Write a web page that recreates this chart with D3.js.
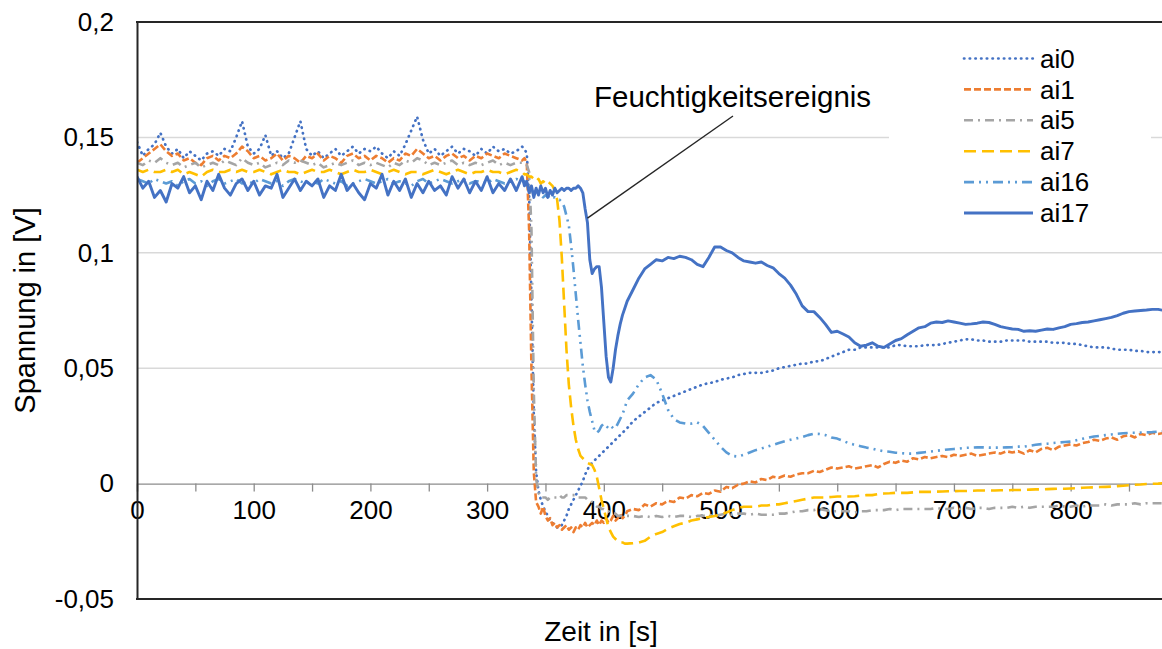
<!DOCTYPE html>
<html>
<head>
<meta charset="utf-8">
<script src="https://cdn.jsdelivr.net/npm/d3@7"></script>
<style>
  body { margin: 0; background: #fff; }
  svg { display: block; font-family: "Liberation Sans", Arial, sans-serif; }
</style>
</head>
<body>
<div id="chart"></div>
<script>
// Zeitachse: 5 s Raster, im Bereich des Ereignisses 2 s
const zeit = [...d3.range(0, 331, 5), ...d3.range(332, 421, 2), ...d3.range(425, 881, 5)]

const ai0 = [
  .148,.142,.145,.147,.152,.146,.143,.145,.141,.144,
  .142,.140,.143,.144,.142,.145,.144,.150,.157,.146,
  .143,.145,.151,.142,.144,.141,.143,.150,.157,.145,
  .142,.144,.141,.143,.145,.142,.144,.146,.143,.145,
  .144,.146,.143,.141,.144,.142,.147,.153,.159,.149,
  .143,.145,.142,.144,.146,.143,.145,.144,.142,.145,
  .143,.146,.144,.145,.143,.144,.146,
  .145,.143,.125,.080,.030,.005,-.003,-.007,-.010,-.012,
  -.014,-.016,-.017,-.018,-.019,-.019,-.018,-.016,-.014,-.011,
  -.009,-.007,-.005,-.003,-.001,.001,.004,.006,.008,.009,
  .010,.011,.012,.013,.014,.015,.016,.017,.018,.019,
  .020,.021,.022,.023,.024,
  .027,.029,.031,.033,.035,.036,.037,.038,.039,.040,
  .041,.042,.043,.0435,.044,.045,.0455,.046,.047,.0475,
  .048,.048,.048,.0485,.049,.050,.0505,.051,.0515,.052,
  .052,.053,.053,.054,.055,.056,.057,.058,.058,.059,
  .059,.059,.059,.059,.059,.060,.060,.0595,.0595,.0595,
  .060,.060,.060,.0605,.061,.0615,.062,.0625,.0625,.062,
  .062,.0615,.0615,.0615,.062,.062,.062,.062,.0615,.0615,
  .0615,.0615,.061,.061,.061,.0605,.0605,.060,.0595,.059,
  .059,.059,.0585,.058,.058,.058,.0575,.0575,.057,.057,
  .057,.057
]

const ai1 = [
  .139,.141,.143,.145,.147,.144,.142,.143,.140,.141,
  .139,.138,.141,.142,.140,.142,.141,.143,.146,.144,
  .141,.142,.140,.141,.143,.140,.142,.141,.139,.142,
  .141,.143,.140,.142,.141,.139,.142,.143,.141,.142,
  .140,.142,.141,.139,.141,.140,.143,.142,.145,.143,
  .141,.142,.140,.142,.143,.141,.142,.140,.142,.141,
  .143,.142,.141,.143,.142,.141,.140,
  .141,.139,.110,.050,.005,-.008,-.010,-.013,-.010,-.014,
  -.016,-.015,-.018,-.017,-.019,-.018,-.020,-.019,-.018,-.020,
  -.019,-.021,-.019,-.020,-.018,-.019,-.017,-.019,-.018,-.017,
  -.018,-.016,-.018,-.016,-.017,-.015,-.017,-.016,-.014,-.016,
  -.015,-.013,-.015,-.014,-.012,
  -.011,-.0115,-.009,-.010,-.0085,-.009,-.0075,-.008,-.006,-.0065,
  -.005,-.0055,-.004,-.0045,-.003,-.0035,-.0015,-.002,-.0005,.000,
  .001,.0005,.002,.0015,.003,.0025,.0035,.003,.004,.0045,
  .0045,.0055,.005,.006,.007,.0065,.007,.0075,.0065,.007,
  .0075,.008,.007,.0085,.0095,.009,.010,.0095,.011,.0105,
  .0115,.011,.0115,.012,.0115,.0125,.012,.0125,.013,.012,
  .0125,.013,.0135,.013,.014,.0135,.014,.013,.0145,.0135,
  .015,.0155,.0145,.016,.0165,.017,.0165,.0175,.018,.019,
  .0185,.0195,.020,.019,.0205,.021,.020,.0215,.021,.022,
  .0215,.022
]

const ai5 = [
  .139,.138,.140,.139,.141,.139,.138,.139,.137,.138,
  .139,.137,.138,.139,.138,.140,.139,.138,.141,.139,
  .138,.139,.137,.138,.139,.138,.140,.139,.140,.139,
  .138,.139,.137,.138,.139,.138,.139,.140,.138,.139,
  .138,.139,.138,.137,.139,.138,.140,.139,.141,.140,
  .138,.139,.138,.139,.140,.138,.139,.138,.139,.138,
  .139,.140,.138,.139,.138,.139,.139,
  .139,.138,.135,.110,.040,.002,-.004,-.006,-.006,-.006,
  -.007,-.006,-.006,-.006,-.006,-.005,-.006,-.006,-.005,-.005,
  -.005,-.005,-.005,-.006,-.006,-.006,-.006,-.007,-.007,-.008,
  -.009,-.010,-.010,-.011,-.011,-.012,-.012,-.013,-.013,-.013,
  -.014,-.014,-.014,-.014,-.014,
  -.014,-.0145,-.014,-.0145,-.014,-.0145,-.014,-.0145,-.014,-.014,
  -.0145,-.014,-.014,-.0135,-.014,-.0135,-.013,-.0135,-.013,-.013,
  -.0135,-.013,-.0135,-.0135,-.0135,-.013,-.013,-.0125,-.012,-.012,
  -.0115,-.0115,-.011,-.0115,-.012,-.012,-.012,-.012,-.0125,-.012,
  -.012,-.0115,-.0115,-.0115,-.011,-.0115,-.011,-.011,-.011,-.011,
  -.011,-.011,-.0105,-.011,-.011,-.0105,-.011,-.0105,-.011,-.0105,
  -.0105,-.011,-.0105,-.0105,-.0105,-.010,-.0105,-.010,-.0105,-.010,
  -.010,-.010,-.010,-.0095,-.010,-.010,-.0095,-.010,-.0095,-.0095,
  -.0095,-.009,-.0095,-.009,-.009,-.009,-.0085,-.009,-.0085,-.0085,
  -.0085,-.0085
]

const ai7 = [
  .136,.135,.136,.135,.135,.136,.135,.136,.134,.135,
  .134,.133,.135,.136,.135,.135,.136,.135,.136,.135,
  .135,.136,.135,.134,.135,.136,.135,.135,.134,.135,
  .136,.135,.135,.136,.135,.134,.135,.136,.135,.135,
  .136,.135,.134,.135,.136,.135,.134,.135,.135,.134,
  .135,.136,.135,.134,.135,.136,.135,.134,.135,.135,
  .136,.135,.135,.134,.135,.136,.135,
  .134,.134,.133,.133,.132,.131,.132,.130,.131,.130,
  .131,.130,.129,.127,.123,.114,.098,.078,.058,.043,
  .033,.025,.019,.015,.012,.011,.010,.009,.0085,.008,
  .006,.003,-.002,-.007,-.011,-.015,-.019,-.021,-.023,-.024,
  -.025,-.0255,-.0255,-.026,-.026,
  -.0258,-.0255,-.0248,-.023,-.0218,-.021,-.0195,-.0185,-.0175,-.017,
  -.016,-.0155,-.015,-.0145,-.014,-.0135,-.0125,-.0115,-.0105,-.010,
  -.010,-.010,-.0095,-.0095,-.009,-.009,-.0085,-.008,-.0075,-.007,
  -.0065,-.006,-.006,-.006,-.0058,-.0056,-.0056,-.0056,-.0055,-.0052,
  -.005,-.005,-.0045,-.0043,-.0042,-.004,-.004,-.004,-.0038,-.0036,
  -.0035,-.0036,-.0035,-.0034,-.0033,-.0033,-.0032,-.0032,-.0031,-.003,
  -.003,-.003,-.003,-.0029,-.0029,-.0028,-.0028,-.0027,-.0026,-.0025,
  -.0025,-.0024,-.0023,-.0022,-.0022,-.0021,-.002,-.0018,-.0017,-.0016,
  -.0015,-.0014,-.0013,-.0011,-.0009,-.0007,-.0005,-.0004,-.0002,-.0001,
  .000,.0002
]

const ai16 = [
  .132,.131,.130,.132,.131,.130,.131,.129,.131,.132,
  .130,.131,.129,.131,.132,.130,.131,.132,.130,.131,
  .130,.132,.131,.130,.131,.129,.131,.132,.131,.130,
  .131,.130,.132,.131,.130,.131,.129,.130,.131,.132,
  .131,.130,.131,.132,.130,.131,.130,.129,.131,.132,
  .130,.131,.132,.131,.130,.131,.132,.130,.131,.131,
  .130,.132,.131,.130,.131,.132,.131,
  .131,.130,.128,.127,.126,.125,.126,.125,.124,.125,
  .124,.125,.124,.124,.123,.123,.122,.120,.116,.112,
  .103,.093,.082,.071,.061,.051,.043,.036,.031,.027,
  .023,.022,.023,.025,.026,.025,.024,.025,.024,.024,
  .026,.028,.030,.033,.036,
  .039,.043,.046,.047,.045,.039,.032,.028,.0265,.026,
  .026,.0265,.025,.022,.019,.016,.0135,.012,.0117,.0125,
  .0135,.0145,.0152,.016,.0168,.0176,.0183,.019,.0196,.0202,
  .021,.0216,.0215,.021,.020,.0195,.0185,.0175,.0168,.0162,
  .0156,.0152,.0145,.014,.0138,.0134,.0132,.013,.013,.0133,
  .0136,.0139,.0142,.0145,.0148,.015,.0152,.0155,.0156,.0157,
  .0157,.0156,.0156,.0156,.0157,.0158,.016,.016,.0164,.0168,
  .0171,.0173,.0176,.0178,.018,.0182,.0188,.0194,.0199,.0204,
  .0207,.021,.0213,.0216,.0218,.022,.022,.0221,.0222,.0223,
  .0225,.0226
]

const ai17 = [
  .133,.128,.131,.124,.127,.122,.130,.128,.133,.126,
  .129,.123,.131,.127,.134,.128,.125,.130,.132,.127,
  .131,.125,.129,.128,.134,.124,.128,.132,.127,.131,
  .129,.132,.124,.129,.127,.134,.127,.130,.126,.123,
  .130,.128,.134,.125,.131,.127,.132,.124,.130,.126,
  .131,.127,.129,.125,.133,.128,.132,.126,.131,.127,
  .133,.126,.130,.127,.132,.127,.133,
  .129,.131,.126,.129,.124,.128,.125,.129,.126,.128,
  .124,.127,.125,.128,.126,.127,.128,.127,.128,.128,
  .127,.128,.128,.129,.128,.126,.119,.113,.097,.091,
  .093,.094,.094,.085,.070,.055,.046,.044,.050,.058,
  .064,.069,.073,.076,.079,
  .084,.089,.093,.095,.097,.0965,.098,.0975,.0985,.098,
  .097,.095,.094,.098,.1025,.1025,.101,.100,.098,.0965,
  .096,.0955,.096,.0945,.0935,.091,.089,.086,.082,.077,
  .0745,.0745,.072,.069,.0655,.066,.0648,.0635,.061,.0595,
  .060,.061,.0595,.059,.0605,.062,.0628,.0645,.066,.0675,
  .068,.0695,.070,.0698,.0705,.070,.0695,.069,.0692,.0695,
  .070,.0698,.069,.068,.0675,.067,.0668,.066,.0662,.066,
  .0665,.067,.0668,.0675,.068,.069,.0693,.0698,.070,.0705,
  .071,.0715,.072,.0728,.0738,.0745,.0748,.075,.0752,.0755,
  .0755,.075
]

const serien = ["ai0", "ai1", "ai5", "ai7", "ai16", "ai17"]
const werte = [ai0, ai1, ai5, ai7, ai16, ai17]
const farben = ["#4472C4", "#ED7D31", "#A5A5A5", "#FFC000", "#5B9BD5", "#4472C4"]
const striche = ["0.4,5.3", "7,3", "9,5,2,5", "12,6", "10,5,2,5,2,5", null]
const breiten = [2.7, 2.6, 2.6, 2.6, 2.6, 2.9]

const yTicks = [-0.05, 0, 0.05, 0.1, 0.15, 0.2]
const xTicks = d3.range(0, 881, 50)
const xLabels = [0, 100, 200, 300, 400, 500, 600, 700, 800]

const width = 1162
const height = 649
const margin = { top: 22, bottom: 50, left: 137, right: -2 }

const svg = d3.select("#chart")
  .append("svg")
  .attr("width", width)
  .attr("height", height)

const x = d3.scaleLinear().domain([0, 880]).range([margin.left, width - margin.right])
const y = d3.scaleLinear().domain([-0.05, 0.2]).range([height - margin.bottom, margin.top])
const komma = d => String(d).replace(".", ",")

// Gitternetz
svg.append("g")
  .selectAll("line")
  .data([0.05, 0.1, 0.15])
  .join("line")
  .attr("x1", x(0)).attr("x2", x(880))
  .attr("y1", d => y(d)).attr("y2", d => y(d))
  .attr("stroke", "#D9D9D9")
  .attr("stroke-width", 1.5)

// x-Achse bei 0
const xAxis = d3.axisBottom(x)
  .tickValues(xTicks)
  .tickSize(8)
  .tickPadding(9)
  .tickFormat(d => xLabels.includes(d) ? d : "")
const xAxisGroup = svg.append("g")
  .attr("transform", `translate(0, ${y(0)})`)
  .call(xAxis)
xAxisGroup.select(".domain").attr("stroke", "#8C8C8C").attr("stroke-width", 1.3)
xAxisGroup.selectAll(".tick line").attr("stroke", "#8C8C8C").attr("stroke-width", 1.3)
xAxisGroup.selectAll("text")
  .attr("font-size", 26)
  .attr("font-family", "Liberation Sans, Arial, sans-serif")
  .attr("fill", "#000")

// Linien
const linie = d3.line()
  .x((d, i) => x(zeit[i]))
  .y(d => y(d))

svg.append("defs").append("clipPath").attr("id", "plot")
  .append("rect")
  .attr("x", x(0)).attr("y", y(0.2))
  .attr("width", x(880) - x(0)).attr("height", y(-0.05) - y(0.2))

svg.append("g")
  .attr("clip-path", "url(#plot)")
  .selectAll("path")
  .data(werte)
  .join("path")
  .attr("fill", "none")
  .attr("stroke", (d, i) => farben[i])
  .attr("stroke-width", (d, i) => breiten[i])
  .attr("stroke-linecap", (d, i) => i === 0 ? "round" : "butt")
  .attr("stroke-linejoin", "round")
  .attr("stroke-dasharray", (d, i) => striche[i])
  .attr("d", linie)

// Rahmen oben und unten, y-Achse links
const yAxis = d3.axisLeft(y)
  .tickValues(yTicks)
  .tickSize(0)
  .tickPadding(23)
  .tickFormat(komma)
const yAxisGroup = svg.append("g")
  .attr("transform", `translate(${x(0)}, 0)`)
  .call(yAxis)
yAxisGroup.select(".domain").attr("stroke", "#262626").attr("stroke-width", 2)
yAxisGroup.selectAll("text")
  .attr("font-size", 26)
  .attr("font-family", "Liberation Sans, Arial, sans-serif")
  .attr("fill", "#000")

svg.append("g")
  .selectAll("line")
  .data([0.2, -0.05])
  .join("line")
  .attr("x1", x(0) - 1).attr("x2", width)
  .attr("y1", d => y(d)).attr("y2", d => y(d))
  .attr("stroke", "#262626")
  .attr("stroke-width", 2)

// Legende
const legende = svg.append("g")
legende.append("rect")
  .attr("x", 889).attr("y", 40)
  .attr("width", 262).attr("height", 192)
  .attr("fill", "#fff")
const eintrag = legende.selectAll("g")
  .data(serien)
  .join("g")
  .attr("transform", (d, i) => `translate(964, ${58.5 + i * 30.9})`)
eintrag.append("line")
  .attr("x1", 0).attr("x2", 69)
  .attr("stroke", (d, i) => farben[i])
  .attr("stroke-width", (d, i) => breiten[i])
  .attr("stroke-linecap", (d, i) => i === 0 ? "round" : "butt")
  .attr("stroke-dasharray", (d, i) => striche[i])
eintrag.append("text")
  .attr("x", 76)
  .attr("dy", "0.35em")
  .attr("font-size", 26)
  .text(d => d)

// Anmerkung
svg.append("line")
  .attr("x1", 733).attr("y1", 116)
  .attr("x2", x(386)).attr("y2", y(0.115))
  .attr("stroke", "#262626")
  .attr("stroke-width", 1.4)
svg.append("text")
  .attr("x", 594).attr("y", 107)
  .attr("font-size", 29.5)
  .text("Feuchtigkeitsereignis")

// Achsentitel
svg.append("text")
  .attr("x", 601).attr("y", 641)
  .attr("text-anchor", "middle")
  .attr("font-size", 28)
  .text("Zeit in [s]")
svg.append("text")
  .attr("transform", `translate(35, ${(y(0.2) + y(-0.05)) / 2}) rotate(-90)`)
  .attr("text-anchor", "middle")
  .attr("font-size", 29)
  .text("Spannung in [V]")
</script>
</body>
</html>
